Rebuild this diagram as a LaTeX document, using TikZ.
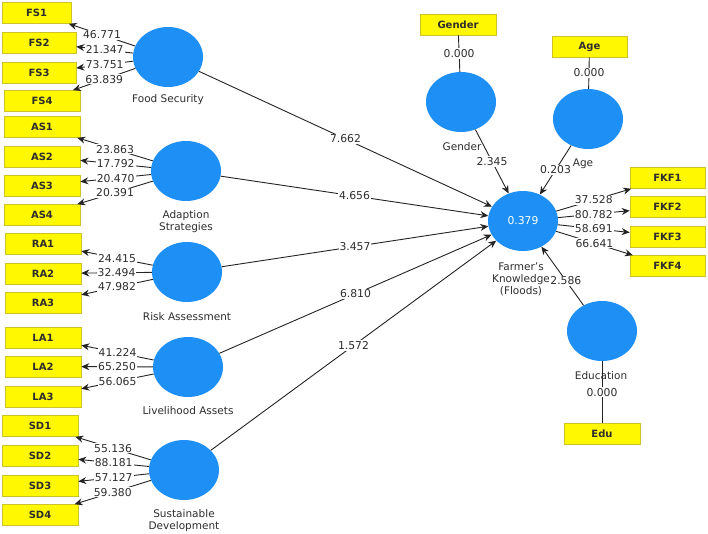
\documentclass[tikz,border=0pt]{standalone}
\usepackage{fontspec}
\setmainfont{DejaVu Sans}
\usetikzlibrary{shapes.geometric,arrows.meta}
\definecolor{cblue}{RGB}{30,144,245}
\definecolor{cyel}{RGB}{255,248,0}
\definecolor{cyelb}{RGB}{205,195,40}
\definecolor{ctext}{RGB}{45,45,45}
\definecolor{cline}{RGB}{35,35,35}
\tikzset{
  lv/.style={ellipse, fill=cblue, draw=none, minimum width=70pt, minimum height=60pt, inner sep=0pt},
  ind/.style={rectangle, fill=cyel, draw=cyelb, line width=0.6pt, minimum width=#1, minimum height=21pt, inner sep=0pt, font=\fontsize{10}{12}\selectfont\bfseries, text=ctext},
  ind/.default=76pt,
  num/.style={midway, fill=white, inner sep=1pt, font=\fontsize{10.8}{12}\selectfont, text=ctext},
  lvlab/.style={align=center, font=\fontsize{10.5}{12}\selectfont, text=ctext, inner sep=0pt},
  arr/.style={draw=cline, line width=0.9pt, -{Stealth[length=8pt,width=7pt]}},
  pl/.style={draw=cline, line width=0.9pt}
}
\begin{document}
\begin{tikzpicture}[x=1pt,y=-1pt]
\useasboundingbox (0,0) rectangle (708,533);
% latent variables
\node[lv] (fs) at (168,57) {};
\node[lv] (as) at (186,171) {};
\node[lv] (ra) at (187,272) {};
\node[lv] (la) at (188,367) {};
\node[lv] (sd) at (184,470) {};
\node[lv] (gen) at (461,102) {};
\node[lv] (age) at (588,119) {};
\node[lv] (fk) at (523,221) {\textcolor{white}{\fontsize{10.8}{12}\selectfont 0.379}};
\node[lv] (edu) at (602,331) {};
% labels of latent variables
\node[lvlab] (fsl) at (168,100) {Food Security};
\node[lvlab] (asl) at (186,221.5) {Adaption\\Strategies};
\node[lvlab] (ral) at (187,317) {Risk Assessment};
\node[lvlab] (lal) at (188,411) {Livelihood Assets};
\node[lvlab] (sdl) at (184,521) {Sustainable\\Development};
\node[lvlab] (genl) at (462,147) {Gender};
\node[lvlab] (agel) at (583,164) {Age};
% indicators
\node[ind=69pt] (fs1) at (36.5,13) {FS1};
\node[ind=74pt] (fs2) at (39,42.5) {FS2};
\node[ind=74pt] (fs3) at (39,72.5) {FS3};
\node[ind] (fs4) at (42,101) {FS4};
\node[ind] (as1) at (42,127) {AS1};
\node[ind] (as2) at (42,156.5) {AS2};
\node[ind] (as3) at (42,185.5) {AS3};
\node[ind] (as4) at (42,215) {AS4};
\node[ind] (ra1) at (43,243.5) {RA1};
\node[ind] (ra2) at (43,273.5) {RA2};
\node[ind] (ra3) at (43,303) {RA3};
\node[ind] (la1) at (43,337.5) {LA1};
\node[ind] (la2) at (43,366.5) {LA2};
\node[ind] (la3) at (43,396.5) {LA3};
\node[ind] (sd1) at (40,426) {SD1};
\node[ind] (sd2) at (40,455.5) {SD2};
\node[ind] (sd3) at (40,485.5) {SD3};
\node[ind] (sd4) at (40,515) {SD4};
\node[ind] (genb) at (458,24.5) {Gender};
\node[ind=75pt] (ageb) at (589.5,46.5) {Age};
\node[ind=75pt] (fkf1) at (667.5,178) {FKF1};
\node[ind=75pt] (fkf2) at (667.5,207) {FKF2};
\node[ind=75pt] (fkf3) at (667.5,236.5) {FKF3};
\node[ind=75pt] (fkf4) at (667.5,266) {FKF4};
\node[ind] (edub) at (602,434) {Edu};
% outer loadings
\draw[arr] (fs) -- node[num]{46.771} (fs1);
\draw[arr] (fs) -- node[num]{21.347} (fs2);
\draw[arr] (fs) -- node[num]{73.751} (fs3);
\draw[arr] (fs) -- node[num]{63.839} (fs4);
\draw[arr] (as) -- node[num]{23.863} (as1);
\draw[arr] (as) -- node[num]{17.792} (as2);
\draw[arr] (as) -- node[num]{20.470} (as3);
\draw[arr] (as) -- node[num]{20.391} (as4);
\draw[arr] (ra) -- node[num]{24.415} (ra1);
\draw[arr] (ra) -- node[num]{32.494} (ra2);
\draw[arr] (ra) -- node[num]{47.982} (ra3);
\draw[arr] (la) -- node[num]{41.224} (la1);
\draw[arr] (la) -- node[num]{65.250} (la2);
\draw[arr] (la) -- node[num]{56.065} (la3);
\draw[arr] (sd) -- node[num]{55.136} (sd1);
\draw[arr] (sd) -- node[num]{88.181} (sd2);
\draw[arr] (sd) -- node[num]{57.127} (sd3);
\draw[arr] (sd) -- node[num]{59.380} (sd4);
\draw[arr] (fk) -- node[num]{37.528} (fkf1);
\draw[arr] (fk) -- node[num]{80.782} (fkf2);
\draw[arr] (fk) -- node[num]{58.691} (fkf3);
\draw[arr] (fk) -- node[num]{66.641} (fkf4);
\draw[pl] (genb) -- node[num]{0.000} (gen);
\draw[pl] (ageb) -- node[num]{0.000} (age);
\draw[pl] (edu) -- node[num]{0.000} (edub);
% structural paths
\draw[arr] (fs) -- node[num]{7.662} (fk);
\draw[arr] (as) -- node[num]{4.656} (fk);
\draw[arr] (ra) -- node[num]{3.457} (fk);
\draw[arr] (la) -- node[num]{6.810} (fk);
\draw[arr] (sd) -- node[num]{1.572} (fk);
\draw[arr] (gen) -- node[num]{2.345} (fk);
\draw[arr] (age) -- node[num]{0.203} (fk);
\draw[arr] (edu) -- node[num,pos=0.42]{2.586} (fk);
% labels drawn over lines
\node[lvlab] (fkl) at (521,279) {Farmer's\\Knowledge\\(Floods)};
\node[lvlab] (edul) at (601,376) {Education};
\end{tikzpicture}
\end{document}
